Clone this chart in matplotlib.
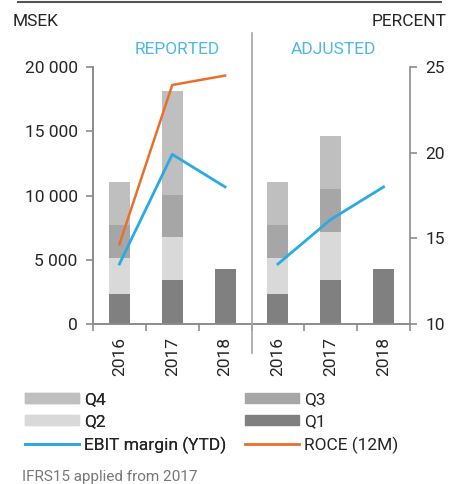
import numpy as np
import matplotlib.pyplot as plt
from matplotlib.ticker import FuncFormatter, FixedLocator
from matplotlib.patches import Patch
from matplotlib.lines import Line2D

plt.rcParams['font.family'] = ['Roboto', 'DejaVu Sans']

# data
years = ["2016", "2017", "2018", "2016", "2017", "2018"]
q1 = [2360, 3420, 4260, 2360, 3420, 4260]
q2 = [2750, 3330, 0, 2750, 3760, 0]
q3 = [2620, 3290, 0, 2620, 3320, 0]
q4 = [3300, 8090, 0, 3300, 4130, 0]
ebit_reported = [13.5, 19.9, 18.0]
roce_reported = [14.65, 23.95, 24.5]
ebit_adjusted = [13.5, 16.1, 18.0]

c_q1 = "#808080"
c_q2 = "#d9d9d9"
c_q3 = "#a6a6a6"
c_q4 = "#bfbfbf"
c_ebit = "#29abe2"
c_roce = "#e8702a"
c_title = "#4db8e8"
c_axis = "#8c8c8c"
c_text = "#262626"

W, H = 449, 484
fig = plt.figure(figsize=(W / 100, H / 100), dpi=100)

def fx(px):
    return px / W

def fy(py):
    return 1 - py / H

ax = fig.add_axes([fx(93), fy(324), fx(410 - 93), fy(67) - fy(324)])
ax2 = ax.twinx()

x = np.arange(len(years)) + 0.5
bw = 0.4
b = np.zeros(len(years))
for vals, col in [(q1, c_q1), (q2, c_q2), (q3, c_q3), (q4, c_q4)]:
    ax.bar(x, vals, bw, bottom=b, color=col, zorder=2)
    b = b + np.array(vals)

ax.set_xlim(0, 6)
ax.set_ylim(0, 20000)
ax.set_yticks([0, 5000, 10000, 15000, 20000])
ax.yaxis.set_major_formatter(FuncFormatter(lambda v, p: f"{int(v):,}".replace(",", " ")))
ax.xaxis.set_major_locator(FixedLocator(np.arange(0, 7)))
ax.xaxis.set_minor_locator(FixedLocator(x))
ax.set_xticklabels([])
ax.set_xticklabels(years, minor=True, rotation=90)
ax.tick_params(axis="x", which="minor", length=0, pad=9, labelsize=12.5, labelcolor=c_text)
ax.tick_params(axis="x", which="major", length=5, color=c_axis, width=1.2)
ax.tick_params(axis="y", length=5, color=c_axis, width=1.2, labelsize=12.5, labelcolor=c_text, pad=6)

ax2.plot(x[:3], ebit_reported, color=c_ebit, lw=2.0, zorder=3)
ax2.plot(x[:3], roce_reported, color=c_roce, lw=1.8, zorder=3)
ax2.plot(x[3:], ebit_adjusted, color=c_ebit, lw=2.0, zorder=3)
ax2.set_ylim(10, 25)
ax2.set_yticks([10, 15, 20, 25])
ax2.tick_params(axis="y", length=5, color=c_axis, width=1.2, labelsize=12.5, labelcolor=c_text, pad=6)

for a in (ax, ax2):
    a.spines["top"].set_visible(False)
    for s in ("left", "right", "bottom"):
        a.spines[s].set_color(c_axis)
        a.spines[s].set_linewidth(1.2)
ax.spines["right"].set_visible(False)

# divider and top rule
fig.add_artist(Line2D([fx(252), fx(252)], [fy(33), fy(353)], color="#a6a6a6", lw=1.2))
fig.add_artist(Line2D([fx(18), fx(441)], [fy(2), fy(2)], color="#555555", lw=1.5))

fig.text(fx(13), fy(22), "MSEK", fontsize=12.5, color=c_text, va="center", ha="left")
fig.text(fx(447), fy(22), "PERCENT", fontsize=12.5, color=c_text, va="center", ha="right")
fig.text(fx(177), fy(49), "REPORTED", fontsize=12.5, color=c_title, va="center", ha="center")
fig.text(fx(333), fy(49), "ADJUSTED", fontsize=12.5, color=c_title, va="center", ha="center")

# legend, two columns
leg_kw = dict(frameon=False, fontsize=12.5, handlelength=3.1, handleheight=0.55,
              handletextpad=0.3, labelspacing=0.42, borderaxespad=0, borderpad=0,
              loc="upper left", labelcolor=c_text)
h1 = [Patch(color=c_q4), Patch(color=c_q2), Line2D([], [], color=c_ebit, lw=2)]
h2 = [Patch(color=c_q3), Patch(color=c_q1), Line2D([], [], color=c_roce, lw=2)]
l1 = fig.legend(h1, ["Q4", "Q2", "EBIT margin (YTD)"], bbox_to_anchor=(fx(25), fy(392)), **leg_kw)
fig.add_artist(l1)
fig.legend(h2, ["Q3", "Q1", "ROCE (12M)"], bbox_to_anchor=(fx(245), fy(392)), **leg_kw)

fig.text(fx(22), fy(477), "IFRS15 applied from 2017", fontsize=11, color="#777777", va="center", ha="left")

fig.savefig("out.png", dpi=100)
